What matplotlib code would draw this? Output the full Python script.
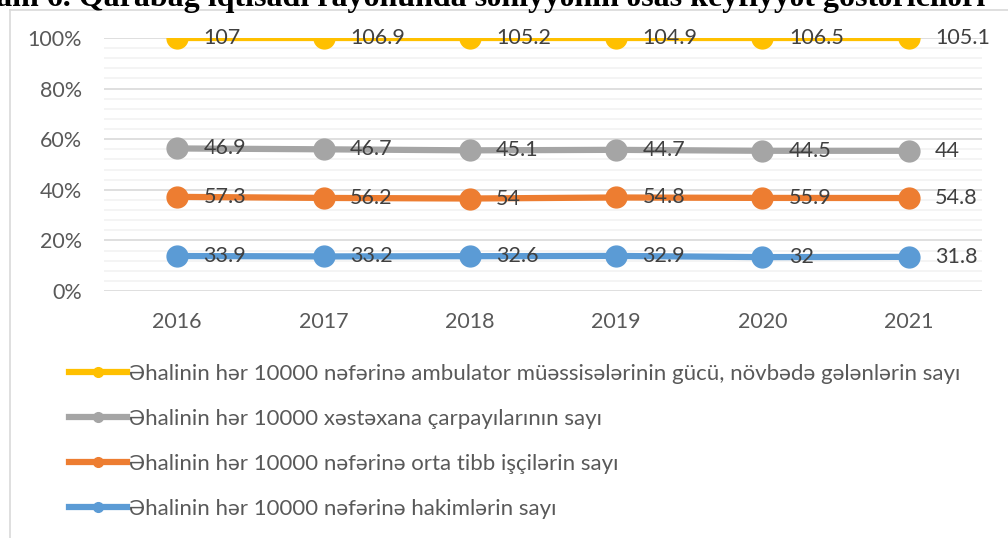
import numpy as np
import matplotlib.pyplot as plt
from matplotlib.lines import Line2D
from matplotlib.ticker import PercentFormatter, MultipleLocator

plt.rcParams['font.family'] = ['Lato', 'DejaVu Sans']

years = ['2016', '2017', '2018', '2019', '2020', '2021']
series_names = [
    'Əhalinin hər 10000 nəfərinə hakimlərin sayı',
    'Əhalinin hər 10000 nəfərinə orta tibb işçilərin sayı',
    'Əhalinin hər 10000 xəstəxana çarpayılarının sayı',
    'Əhalinin hər 10000 nəfərinə ambulator müəssisələrinin gücü, növbədə gələnlərin sayı',
]
hakim = [33.9, 33.2, 32.6, 32.9, 32, 31.8]
orta_tibb = [57.3, 56.2, 54, 54.8, 55.9, 54.8]
xestexana = [46.9, 46.7, 45.1, 44.7, 44.5, 44]
ambulator = [107, 106.9, 105.2, 104.9, 106.5, 105.1]
colors = ['#5b9bd5', '#ed7d31', '#a5a5a5', '#ffc000']

values = np.array([hakim, orta_tibb, xestexana, ambulator])
shares = np.cumsum(values, axis=0) / values.sum(axis=0)

W, H = 1008, 538
fig = plt.figure(figsize=(W / 100, H / 100), dpi=100)
ax = fig.add_axes([104 / W, 1 - 291 / H, (982 - 104) / W, (291 - 38) / H])

# chart frame
fig.add_artist(Line2D([10 / W, 10 / W], [0, 1 - 10 / H], transform=fig.transFigure,
                      color='#d9d9d9', lw=1.2))
fig.add_artist(Line2D([10 / W, 1], [1 - 10 / H, 1 - 10 / H], transform=fig.transFigure,
                      color='#d9d9d9', lw=1.2))

# title (cut by the top edge, as in the source page)
fig.text(985 / W, 1 - 6 / H,
         'Diaqram 6. Qarabağ iqtisadi rayonunda səhiyyənin əsas keyfiyyət göstəriciləri',
         ha='right', va='baseline', fontsize=23, fontweight='bold',
         family=['Liberation Serif', 'DejaVu Serif'])

x = np.arange(len(years))
for i in range(len(values)):
    ax.plot(x, shares[i], color=colors[i], lw=4.5, marker='o', markersize=15,
            solid_capstyle='round', zorder=3)
    for xi, yi, v in zip(x, shares[i], values[i]):
        ax.annotate(f'{v:g}', (xi, yi), xytext=(19, 0), textcoords='offset points',
                    va='center', ha='left', fontsize=15.5, color='#404040', zorder=4)

ax.set_xlim(-0.5, len(years) - 0.5)
ax.set_ylim(0, 1)
ax.set_xticks(x)
ax.set_xticklabels(years)
ax.yaxis.set_major_locator(MultipleLocator(0.2))
ax.yaxis.set_minor_locator(MultipleLocator(0.04))
ax.yaxis.set_major_formatter(PercentFormatter(1.0, decimals=0))
ax.grid(axis='y', which='major', color='#d9d9d9', lw=1.2, zorder=0)
ax.grid(axis='y', which='minor', color='#f2f2f2', lw=1.2, zorder=0)
ax.tick_params(axis='both', which='both', length=0, labelsize=15.5, colors='#595959')
ax.tick_params(axis='x', pad=15)
ax.tick_params(axis='y', pad=16)
for s in ax.spines.values():
    s.set_visible(False)

# legend (top series first)
handles = [Line2D([], [], color=colors[i], lw=4.5, marker='o', markersize=7)
           for i in range(3, -1, -1)]
labels = [series_names[i] for i in range(3, -1, -1)]
fig.legend(handles, labels, loc='upper left', bbox_to_anchor=(60 / W, 1 - 355 / H),
           frameon=False, fontsize=16, labelcolor='#595959', handlelength=2.6,
           handletextpad=0.1, labelspacing=1.13, borderaxespad=0)

fig.savefig('out.png', dpi=100)
